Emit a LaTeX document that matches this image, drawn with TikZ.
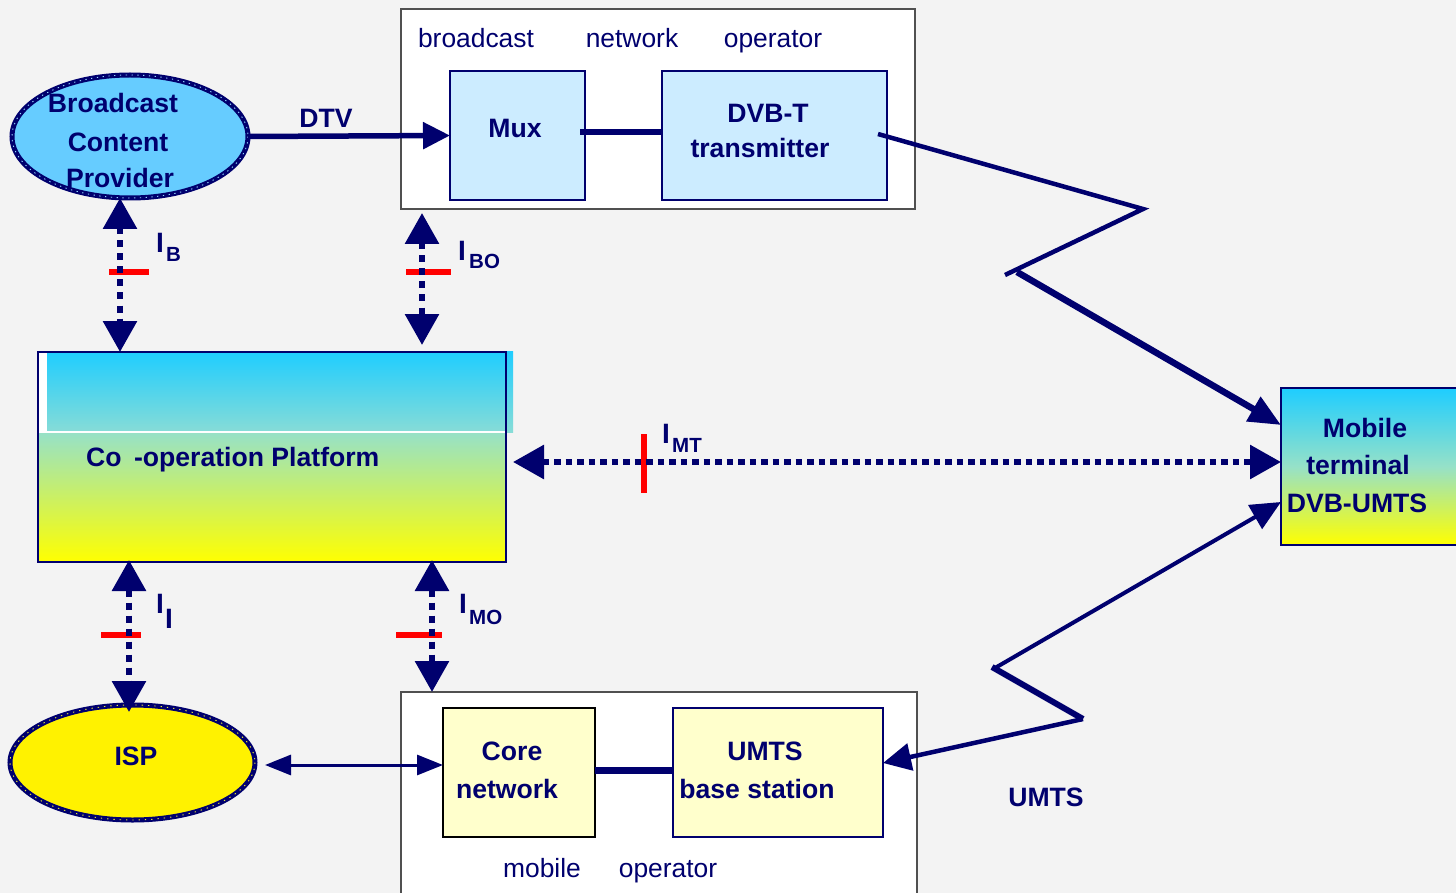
\documentclass[tikz,border=0pt]{standalone}
\usepackage{fontspec}
\setmainfont{Liberation Sans}
\usetikzlibrary{arrows.meta,shapes.geometric}

\definecolor{navy}{RGB}{0,0,110}
\definecolor{bg}{RGB}{243,243,243}
\definecolor{skyfill}{RGB}{102,204,255}
\definecolor{skytex}{RGB}{150,215,255}
\definecolor{paleblue}{RGB}{204,236,255}
\definecolor{paleyellow}{RGB}{255,255,204}
\definecolor{cyantop}{RGB}{30,205,255}
\definecolor{mint}{RGB}{150,225,200}
\definecolor{teal}{RGB}{135,220,215}
\definecolor{boxgray}{RGB}{80,80,80}
\definecolor{yeltex}{RGB}{235,235,60}

\newcommand\txtbf{\bfseries\fontsize{26.6}{30}\selectfont}
\newcommand\txtrm{\fontsize{26.4}{30}\selectfont}
\newcommand\lblI{\bfseries\fontsize{28}{30}\selectfont}
\newcommand\lblsub{\bfseries\fontsize{20.5}{24}\selectfont}

\tikzset{
  bold/.style={text=navy, font=\txtbf, inner sep=0pt, anchor=base},
  thin/.style={text=navy, font=\txtrm, inner sep=0pt, anchor=base},
  imain/.style={text=navy, font=\lblI, inner sep=0pt, anchor=base west},
  isub/.style={text=navy, font=\lblsub, inner sep=0pt, anchor=base west},
  opbox/.style={draw=boxgray, line width=1.5pt, fill=white, inner sep=0pt, outer sep=0pt},
  unit/.style={draw=navy, line width=2.2pt, inner sep=0pt, outer sep=0pt},
  blob/.style={ellipse, draw=navy, line width=5pt, inner sep=0pt, outer sep=0pt},
  ifc/.style={draw=navy, line width=6pt, dash pattern=on 7pt off 6pt,
    {Triangle[width=33pt,length=31pt]}-{Triangle[width=33pt,length=31pt]}},
  cut/.style={draw=red, line width=6pt},
  link/.style={draw=navy},
}

\begin{document}
\begin{tikzpicture}[x=1pt,y=-1pt]
\useasboundingbox (0,0) rectangle (1456,893);
\clip (0,0) rectangle (1456,893);
\fill[bg] (0,0) rectangle (1456,893);

% operator frames
\node[opbox, minimum width=514pt, minimum height=200pt] (bno) at (658,109) {};
\node[opbox, minimum width=516pt, minimum height=213pt] (mno) at (659,798.5) {};
\node[thin] (t1) at (476,48) {broadcast};
\node[thin] (t2) at (632,48) {network};
\node[thin] (t3) at (773,48) {operator};
\node[thin] (t4) at (542,877) {mobile};
\node[thin] (t5) at (668,877) {operator};

% broadcast network units
\node[unit, fill=paleblue, minimum width=135pt, minimum height=129pt] (mux) at (517.5,135.5) {};
\node[unit, fill=paleblue, minimum width=225pt, minimum height=129pt] (dvbt) at (774.5,135.5) {};
\node[bold] at (515,138) {Mux};
\node[bold] at (768,123) {DVB-T};
\node[bold] at (760,158) {transmitter};

% mobile network units
\node[unit, draw=black, fill=paleyellow, minimum width=152pt, minimum height=129pt] (core) at (519,772.5) {};
\node[unit, fill=paleyellow, minimum width=210pt, minimum height=129pt] (umts) at (778,772.5) {};
\node[bold] at (512,760) {Core};
\node[bold] at (507,798) {network};
\node[bold] at (765,760) {UMTS};
\node[bold] at (757,798) {base station};

% content provider and ISP
\node[blob, fill=skyfill, minimum width=236pt, minimum height=123pt] (bcp) at (130,136.5) {};
\draw[skytex, line width=0.9pt, dash pattern=on 1.3pt off 4.5pt] (130,136.5) ellipse [x radius=118, y radius=61.5];
\node[bold] at (113,113) {Broadcast};
\node[bold] at (118,152) {Content};
\node[bold] at (120,188) {Provider};

\node[blob, fill=yellow, minimum width=245pt, minimum height=115pt] (isp) at (132.5,762.5) {};
\draw[yeltex, line width=0.9pt, dash pattern=on 1.3pt off 5pt] (132.5,762.5) ellipse [x radius=122.5, y radius=57.5];
\node[bold] at (136,765) {ISP};

% co-operation platform
\shade[top color=mint, bottom color=yellow] (38,432) rectangle (506,562);
\fill[white!97!bg] (38,352) rectangle (47,432);
\shade[top color=cyantop, bottom color=teal] (47,351) rectangle (513,432);
\draw[white, line width=1.5pt] (38,432) -- (506,432);
\node[unit, minimum width=468pt, minimum height=210pt] (cop) at (272,457) {};
\node[bold, anchor=base west] at (86,466) {Co\hspace{5pt} -operation Platform};

% mobile terminal
\node[unit, top color=cyantop, bottom color=yellow, middle color=mint,
      minimum width=189pt, minimum height=157pt] (mt) at (1375.5,466.5) {};
\node[bold] at (1365,437) {Mobile};
\node[bold] at (1358,474) {terminal};
\node[bold] at (1357,512) {DVB-UMTS};

% helper positions for the interface lines
\coordinate (xb) at (120,0);
\coordinate (xbo) at (422,0);
\coordinate (xi) at (129,0);
\coordinate (xmo) at (432,0);
\coordinate (ymt) at (0,462);
\coordinate (yic) at (0,765);

% interface cut marks
\draw[cut] (109,272) -- (149,272);
\draw[cut] (406,272) -- (451,272);
\draw[cut] (101,635) -- (141,635);
\draw[cut] (396,635) -- (442,635);
\draw[cut] (644,434) -- (644,493);

% interfaces
\draw[ifc] (bcp.south -| xb) -- (cop.north -| xb);
\draw[ifc] ([yshift=-4pt]bno.south -| xbo) -- ([yshift=7pt]cop.north -| xbo);
\draw[ifc] ([yshift=2pt]cop.south -| xi) -- ([yshift=-7pt]isp.north -| xi);
\draw[ifc] ([yshift=2pt]cop.south -| xmo) -- (mno.north -| xmo);
\draw[ifc, dash pattern=on 6.5pt off 5pt] ([xshift=7pt]cop.east |- ymt) -- (mt.west |- ymt);

\node[imain] at (156,253) {I};
\node[isub] at (166,262) {B};
\node[imain] at (458,261) {I};
\node[isub] at (469,269) {BO};
\node[imain] at (156,613) {I};
\node[imain] at (165,628) {I};
\node[imain] at (459,613) {I};
\node[isub] at (469,624) {MO};
\node[imain] at (662,443) {I};
\node[isub] at (672,452) {MT};

% content paths
\draw[link, line width=5.5pt, -{Triangle[width=26pt,length=27pt]}] (bcp.east) -- (mux.west);
\node[bold] at (326,128) {DTV};
\draw[link, line width=6pt] ([xshift=-5pt,yshift=3.5pt]mux.east) -- ([yshift=3.5pt]dvbt.west);
\draw[link, line width=7pt] (core.east |- yic) ++(0,5) -- ([yshift=2.5pt]umts.west);
\draw[link, line width=3pt, {Triangle[width=20pt,length=26pt]}-{Triangle[width=20pt,length=26pt]}]
  ([xshift=10pt]isp.east |- yic) -- (core.west |- yic);

% radio links
\coordinate (za) at (1143,209);
\coordinate (zb) at (1005,275);
\coordinate (zc) at (1017,272);
\coordinate (zd) at (995,668);
\coordinate (ze) at (1083,719);
\coordinate (zf) at (992,667);

\draw[link, line width=4.5pt, line join=miter] ([xshift=-9pt,yshift=1.5pt]dvbt.east) -- (za) -- (zb);
\draw[link, line width=6.5pt, -{Triangle[width=27pt,length=32pt]}] (zc) -- ([yshift=-37pt]mt.north west);

\draw[link, line width=4pt, {Triangle[width=27pt,length=30pt]}-] ([yshift=-114pt]mt.north west) -- (zd);
\draw[link, line width=6pt] (zf) -- (ze);
\draw[link, line width=4.5pt, -{Triangle[width=27pt,length=28pt]}] (ze) -- ([yshift=9.5pt]umts.east);
\node[bold] at (1046,806) {UMTS};
\end{tikzpicture}
\end{document}
